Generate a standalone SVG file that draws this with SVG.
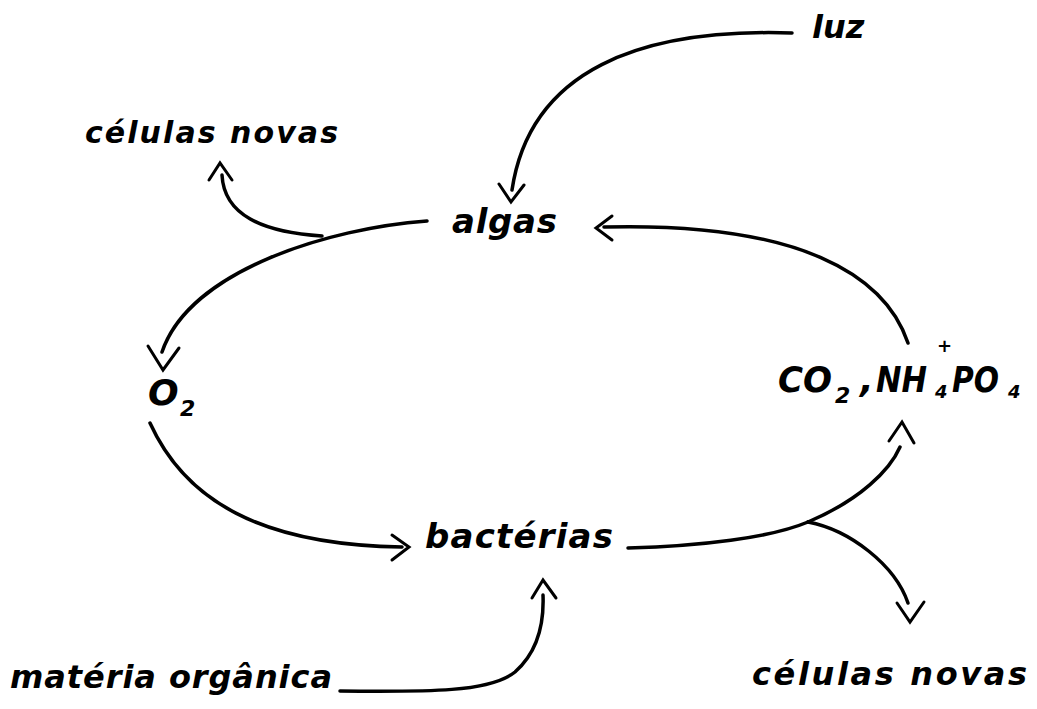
<svg xmlns="http://www.w3.org/2000/svg" width="1037" height="709" viewBox="0 0 1037 709">
<style>
  .t { font-family: "DejaVu Sans", "Liberation Sans", sans-serif; font-weight: bold; font-style: italic; fill: #000; }
  .sub { font-size: 22px; }
  .ln { fill: none; stroke: #000; stroke-width: 3.5; stroke-linecap: round; stroke-linejoin: round; }
  .ah { fill: none; stroke: #000; stroke-width: 3; stroke-linecap: round; stroke-linejoin: miter; }
</style>
<rect width="1037" height="709" fill="#fff"/>

<g id="node-luz"><text class="t" x="812" y="38" font-size="32">luz</text></g>
<g id="node-algas"><text class="t" x="452" y="233" font-size="34" textLength="105" lengthAdjust="spacing">algas</text></g>
<g id="node-celulas-top"><text class="t" x="85" y="143" font-size="30" textLength="253" lengthAdjust="spacing">células novas</text></g>
<g id="node-o2">
  <text class="t" x="148" y="405" font-size="36">O</text>
  <text class="t sub" x="180" y="416">2</text>
</g>
<g id="node-co2">
  <text class="t" x="778" y="392" font-size="36" textLength="54" lengthAdjust="spacingAndGlyphs">CO</text>
  <text class="t sub" x="835" y="403">2</text>
  <text class="t" x="860" y="392" font-size="36">,</text>
  <text class="t" x="876" y="392" font-size="36" textLength="51" lengthAdjust="spacingAndGlyphs">NH</text>
  <text class="t" x="935" y="398" font-size="18">4</text>
  <text class="t" x="937" y="352" font-size="18">+</text>
  <text class="t" x="952" y="392" font-size="36" textLength="47" lengthAdjust="spacingAndGlyphs">PO</text>
  <text class="t" x="1008" y="398" font-size="18">4</text>
</g>
<g id="node-bacterias"><text class="t" x="425" y="548" font-size="34" textLength="188" lengthAdjust="spacing">bactérias</text></g>
<g id="node-materia"><text class="t" x="10" y="688" font-size="32" textLength="322" lengthAdjust="spacing">matéria orgânica</text></g>
<g id="node-celulas-bottom"><text class="t" x="752" y="685" font-size="32" textLength="275" lengthAdjust="spacing">células novas</text></g>

<g id="connectors">
  <!-- luz -> algas -->
  <path class="ln" d="M 792 33 C 640 28, 530 70, 512 190"/>
  <polyline class="ah" points="499,184 511,202 524,185"/>
  <!-- CO2 -> algas -->
  <path class="ln" d="M 908 343 C 885 275, 800 222, 604 227"/>
  <polyline class="ah" points="612,216 596,228 612,240"/>
  <!-- algas -> O2 -->
  <path class="ln" d="M 427 221 C 330 228, 190 270, 162 352"/>
  <polyline class="ah" points="148,346 163,370 179,348"/>
  <!-- junction -> células novas (top) -->
  <path class="ln" d="M 322 236 C 262 232, 224 215, 222 175"/>
  <polyline class="ah" points="209,180 220,163 232,180"/>
  <!-- O2 -> bactérias -->
  <path class="ln" d="M 150 423 C 185 500, 260 545, 402 547"/>
  <polyline class="ah" points="392,535 409,547 392,560"/>
  <!-- matéria orgânica -> bactérias -->
  <path class="ln" d="M 340 691 C 430 692, 490 692, 515 672 C 540 650, 544 620, 543 595"/>
  <polyline class="ah" points="532,598 543,580 556,598"/>
  <!-- bactérias -> junction -->
  <path class="ln" d="M 628 548 C 700 546, 770 538, 808 522"/>
  <!-- junction -> CO2 -->
  <path class="ln" d="M 808 522 C 860 500, 890 470, 900 447"/>
  <polyline class="ah" points="889,441 902,422 914,443"/>
  <!-- junction -> células novas (bottom) -->
  <path class="ln" d="M 808 522 C 850 530, 895 565, 908 603"/>
  <polyline class="ah" points="897,603 910,622 924,602"/>
</g>
</svg>
